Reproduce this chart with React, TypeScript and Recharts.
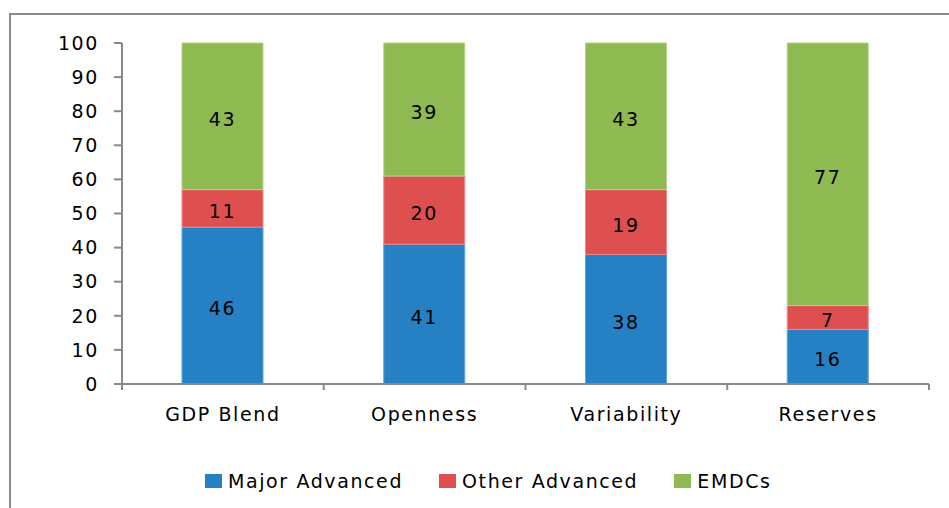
import { BarChart, Bar, XAxis, YAxis, LabelList } from 'recharts'

const CATEGORIES = ['GDP Blend', 'Openness', 'Variability', 'Reserves']
const MAJOR_ADVANCED = [46, 41, 38, 16]
const OTHER_ADVANCED = [11, 20, 19, 7]
const EMDCS = [43, 39, 43, 77]
const Y_TICKS = [0, 10, 20, 30, 40, 50, 60, 70, 80, 90, 100]

const SERIES = [
  { key: 'major', name: 'Major Advanced', color: '#2581C4', edge: '#5fa4d8' },
  { key: 'other', name: 'Other Advanced', color: '#DE4F4F', edge: '#eb8a8a' },
  { key: 'emdc', name: 'EMDCs', color: '#8FBA51', edge: '#b4d48a' },
]

const data = CATEGORIES.map((name, i) => ({
  name,
  major: MAJOR_ADVANCED[i],
  other: OTHER_ADVANCED[i],
  emdc: EMDCS[i],
}))

const W = 949
const H = 508
const PLOT_LEFT = 122
const PLOT_RIGHT = 929
const BAND = (PLOT_RIGHT - PLOT_LEFT) / CATEGORIES.length
const FONT = '"DejaVu Sans", Verdana, sans-serif'
const FS = 19
const LS = 1.6
const AXIS = '#888888'

function XTick(props: any) {
  const { x, y, payload, index } = props
  return (
    <g>
      <line x1={x - BAND / 2} x2={x - BAND / 2} y1={y} y2={y + 6} stroke={AXIS} strokeWidth={2} />
      {index === CATEGORIES.length - 1 && (
        <line x1={x + BAND / 2} x2={x + BAND / 2} y1={y} y2={y + 6} stroke={AXIS} strokeWidth={2} />
      )}
      <text
        x={x}
        y={y + 37}
        textAnchor="middle"
        fontSize={FS}
        fontFamily={FONT}
        letterSpacing={LS}
        fill="#000"
      >
        {payload.value}
      </text>
    </g>
  )
}

export default function App() {
  return (
    <div style={{ position: 'absolute', left: 0, top: 0, width: W, height: H, background: '#fff', overflow: 'hidden' }}>
      <div
        style={{
          position: 'absolute',
          left: 9,
          top: 13,
          width: W,
          height: H,
          border: '2px solid #8c8c8c',
          boxSizing: 'border-box',
        }}
      />
      <BarChart
        width={W}
        height={H}
        data={data}
        margin={{ top: 43, right: W - PLOT_RIGHT, bottom: 94, left: 0 }}
        barSize={81}
        style={{ position: 'absolute', left: 0, top: 0 }}
      >
        <XAxis
          dataKey="name"
          axisLine={{ stroke: AXIS, strokeWidth: 2 }}
          tickLine={false}
          tickSize={0}
          tickMargin={0}
          height={30}
          tick={<XTick />}
          interval={0}
        />
        <YAxis
          domain={[0, 100]}
          ticks={Y_TICKS}
          interval={0}
          width={PLOT_LEFT}
          axisLine={{ stroke: AXIS, strokeWidth: 2 }}
          tickLine={{ stroke: AXIS, strokeWidth: 2 }}
          tickSize={8}
          tickMargin={15}
          tick={{ fontSize: FS, fontFamily: FONT, fill: '#000', letterSpacing: LS }}
        />
        {SERIES.map((s) => (
          <Bar
            key={s.key}
            dataKey={s.key}
            name={s.name}
            stackId="a"
            fill={s.color}
            stroke={s.edge}
            strokeWidth={1}
            isAnimationActive={false}
          >
            <LabelList
              dataKey={s.key}
              position="center"
              fill="#000"
              fontSize={FS}
              fontFamily={FONT}
              letterSpacing={LS}
              dy={3}
            />
          </Bar>
        ))}
      </BarChart>
      <div
        style={{
          position: 'absolute',
          left: 205,
          top: 470,
          display: 'flex',
          alignItems: 'center',
          fontFamily: FONT,
          fontSize: FS,
          letterSpacing: LS,
          color: '#000',
          lineHeight: '22px',
          whiteSpace: 'nowrap',
        }}
      >
        {SERIES.map((s) => (
          <div key={s.key} style={{ display: 'flex', alignItems: 'center', marginRight: 36 }}>
            <span style={{ display: 'inline-block', width: 17, height: 14, background: s.color, marginRight: 6 }} />
            <span>{s.name}</span>
          </div>
        ))}
      </div>
    </div>
  )
}
